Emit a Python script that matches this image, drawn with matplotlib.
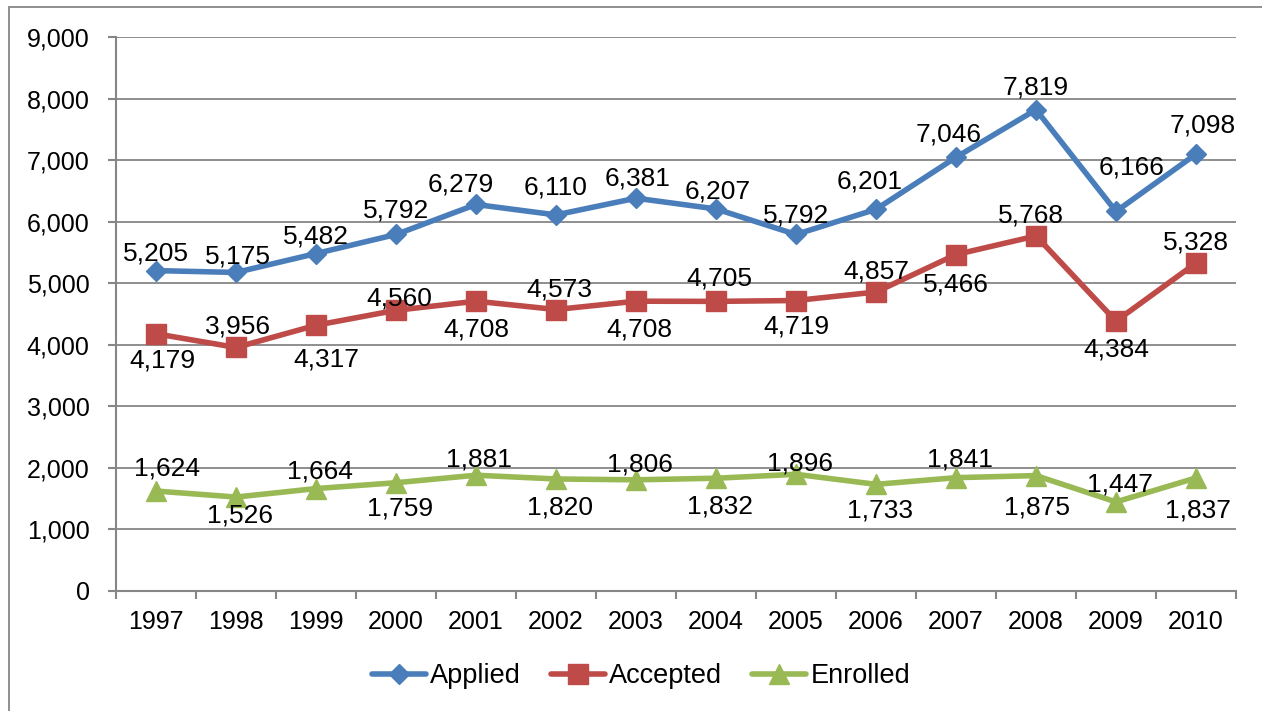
import matplotlib
matplotlib.use("Agg")
import matplotlib.pyplot as plt
from matplotlib.patches import Rectangle

plt.rcParams['font.family'] = ['Liberation Sans', 'DejaVu Sans']

years = ["1997", "1998", "1999", "2000", "2001", "2002", "2003", "2004",
         "2005", "2006", "2007", "2008", "2009", "2010"]
applied = [5205, 5175, 5482, 5792, 6279, 6110, 6381, 6207, 5792, 6201, 7046, 7819, 6166, 7098]
accepted = [4179, 3956, 4317, 4560, 4708, 4573, 4708, 4705, 4719, 4857, 5466, 5768, 4384, 5328]
enrolled = [1624, 1526, 1664, 1759, 1881, 1820, 1806, 1832, 1896, 1733, 1841, 1875, 1447, 1837]

# data-label placement relative to the marker, in pixels (dx right, dy down)
applied_dx = [0, 2, 0, 0, -15, 0, 2, 2, 0, -6, -7, 0, 16, 7]
applied_dy = [-20, -18, -19, -26, -22, -30, -22, -20, -21, -30, -25, -25, -46, -31]
accepted_dx = [6, 2, 10, 3, 0, 3, 3, 3, 0, 0, 0, -5, 0, 0]
accepted_dy = [24, -23, 32, -14, 26, -22, 26, -25, 24, -23, 28, -23, 26, -23]
enrolled_dx = [11, 4, 4, 4, 3, 4, 4, 4, 4, 4, 4, 1, 4, 2]
enrolled_dy = [-25, 16, -20, 23, -18, 26, -18, 26, -13, 24, -21, 29, -20, 30]

LABEL_FS = 19
fig = plt.figure(figsize=(12.62, 7.11), dpi=100)
ax = fig.add_axes([116/1262, 1-591/711, (1236-116)/1262, (591-37)/711])

x = list(range(len(years)))
series = [
    ("Applied", applied, "#4A7EBB", "D", 10, applied_dx, applied_dy),
    ("Accepted", accepted, "#BE4B48", "s", 14, accepted_dx, accepted_dy),
    ("Enrolled", enrolled, "#98B954", "^", 15, enrolled_dx, enrolled_dy),
]
# offset from visual digit centre to baseline (cap-height / 2), in pixels
base_shift = 0.358 * LABEL_FS * fig.dpi / 72
for name, vals, col, mk, ms, dxs, dys in series:
    ax.plot(x, vals, color=col, lw=4, marker=mk, markersize=ms,
            markerfacecolor=col, markeredgecolor=col, label=name,
            solid_joinstyle='round', solid_capstyle='round', zorder=3)
    for xi, v, dx, dy in zip(x, vals, dxs, dys):
        ax.annotate(f"{v:,}", (xi, v), xytext=(dx, -(dy + base_shift)),
                    textcoords='offset pixels', ha='center', va='baseline',
                    fontsize=LABEL_FS, color='black', zorder=4)

ax.set_xlim(-0.5, len(years)-0.5)
ax.set_ylim(0, 9000)
ax.set_yticks(range(0, 9001, 1000))
ax.set_yticklabels([f"{v:,}" for v in range(0, 9001, 1000)], fontsize=18)
ax.set_xticks(x)
ax.set_xticklabels(years, fontsize=18)
ax.set_xticks([i - 0.5 for i in range(len(years)+1)], minor=True)
ax.tick_params(axis='x', which='major', length=0, pad=14)
ax.tick_params(axis='x', which='minor', length=6, width=1.5, color='#868686')
ax.tick_params(axis='y', length=6, width=1.5, color='#868686', pad=13)
ax.grid(axis='y', color='#868686', lw=1.3, zorder=0)
for s in ['top', 'right']:
    ax.spines[s].set_visible(False)
for s in ['left', 'bottom']:
    ax.spines[s].set_color('#868686')
    ax.spines[s].set_linewidth(1.5)

leg = fig.legend(loc='center', bbox_to_anchor=(641/1262, 1-676/711), ncol=3,
                 frameon=False, fontsize=19.5, handlelength=2.0, handletextpad=0.15,
                 columnspacing=1.1)

fig.patches.append(Rectangle((9/1262, -0.1), 1.2, 1-7/711+0.1, transform=fig.transFigure,
                             fill=False, edgecolor='#868686', lw=1.3))

fig.savefig("out.png", dpi=100)
